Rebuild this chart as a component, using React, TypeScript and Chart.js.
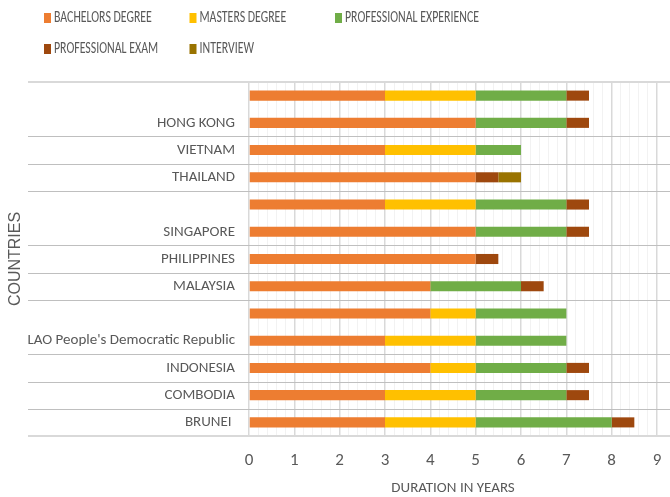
import React, { useEffect, useRef } from 'react';
import { Chart, registerables } from 'chart.js';

Chart.register(...registerables);

const countries = ['', 'HONG KONG', 'VIETNAM', 'THAILAND', '', 'SINGAPORE', 'PHILIPPINES', 'MALAYSIA', '', "LAO People's Democratic Republic", 'INDONESIA', 'COMBODIA', 'BRUNEI '];
const bachelors = [3, 5, 3, 5, 3, 5, 5, 4, 4, 3, 4, 3, 3];
const masters = [2, 0, 2, 0, 2, 0, 0, 0, 1, 2, 1, 2, 2];
const experience = [2, 2, 1, 0, 2, 2, 0, 2, 2, 2, 2, 2, 3];
const exam = [0.5, 0.5, 0, 0.5, 0.5, 0.5, 0.5, 0.5, 0, 0, 0.5, 0.5, 0.5];
const interview = [0, 0, 0, 0.5, 0, 0, 0, 0, 0, 0, 0, 0, 0];
const seriesNames = ['BACHELORS DEGREE', 'MASTERS DEGREE', 'PROFESSIONAL EXPERIENCE', 'PROFESSIONAL EXAM', 'INTERVIEW'];
// index of the last row of each country group (for separator lines)
const groupEnds = [1, 2, 3, 5, 6, 7, 9, 10, 11, 12];
const xMin = 0;
const xMax = 9;
const xStep = 0.2;

const CALIBRI = "Carlito, 'Liberation Sans', sans-serif";
const REGULAR = "'Liberation Sans', Arial, sans-serif";
const TEXT = '#595959';

const isMajor = (v: number) => Math.abs(v - Math.round(v)) < 1e-6;

const separators = {
  id: 'separators',
  beforeDatasetsDraw(chart: any, _a: any, o: any) {
    const y = chart.scales.y;
    const ctx = chart.ctx;
    const half = (y.getPixelForValue(1) - y.getPixelForValue(0)) / 2;
    const line = (py: number, color: string, w: number) => {
      ctx.beginPath();
      ctx.strokeStyle = color;
      ctx.lineWidth = w;
      const yy = Math.round(py) + (w % 2 ? 0.5 : 0);
      ctx.moveTo(o.left, yy);
      ctx.lineTo(chart.width, yy);
      ctx.stroke();
    };
    ctx.save();
    line(y.getPixelForValue(0) - half, o.edgeColor, 2);
    groupEnds.forEach((i) => {
      const last = i === countries.length - 1;
      line(y.getPixelForValue(i) + half, last ? o.edgeColor : o.color, last ? 2 : 1);
    });
    ctx.restore();
  },
};

const columnLegend = {
  id: 'columnLegend',
  afterDraw(chart: any, _a: any, o: any) {
    const ctx = chart.ctx;
    ctx.save();
    ctx.font = `${o.size}px ${o.family}`;
    ctx.textBaseline = 'middle';
    ctx.textAlign = 'left';
    chart.data.datasets.forEach((ds: any, i: number) => {
      const col = i % o.columns;
      const row = Math.floor(i / o.columns);
      const x = o.x + col * o.colWidth;
      const y = o.y + row * o.rowHeight;
      ctx.fillStyle = ds.backgroundColor;
      ctx.fillRect(x, y - o.boxH / 2, o.boxW, o.boxH);
      ctx.fillStyle = o.color;
      ctx.save();
      ctx.translate(x + o.boxW + o.gap, y);
      ctx.scale(o.squeeze, 1);
      ctx.fillText(ds.label, 0, 0);
      ctx.restore();
    });
    ctx.restore();
  },
};

export default function App() {
  const ref = useRef<HTMLCanvasElement>(null);
  useEffect(() => {
    const colors = ['#ED7D31', '#FFC000', '#70AD47', '#9E480E', '#997300'];
    const values = [bachelors, masters, experience, exam, interview];
    const chart = new Chart(ref.current!, {
      type: 'bar',
      data: {
        labels: countries,
        datasets: seriesNames.map((name, i) => ({
          label: name,
          data: values[i],
          backgroundColor: colors[i],
          borderWidth: 0,
          barPercentage: 0.37,
          categoryPercentage: 1,
        })),
      },
      options: {
        indexAxis: 'y',
        responsive: false,
        animation: false,
        events: [],
        layout: { padding: { top: 82, right: 13, left: 0, bottom: 0 } },
        scales: {
          x: {
            stacked: true,
            min: xMin,
            max: xMax,
            ticks: {
              stepSize: xStep,
              autoSkip: false,
              maxRotation: 0,
              color: TEXT,
              padding: 15,
              font: { family: CALIBRI, size: 17 },
              callback: (v: any) => (isMajor(Number(v)) ? String(Math.round(Number(v))) : ''),
            },
            grid: {
              color: (c: any) => (isMajor(c.tick.value) ? '#d9d9d9' : '#f2f2f2'),
              lineWidth: (c: any) => (isMajor(c.tick.value) ? 1.5 : 1),
              drawTicks: false,
            },
            border: { display: false },
            title: {
              display: true,
              text: 'DURATION IN YEARS',
              color: TEXT,
              font: { family: CALIBRI, size: 15, lineHeight: 1.2 },
              padding: { top: 0, bottom: 0 },
            },
            afterFit: (s: any) => {
              s.height = 61;
              s.paddingLeft = 0;
              s.paddingRight = 0;
            },
          },
          y: {
            stacked: true,
            ticks: { color: TEXT, padding: 14, font: { family: CALIBRI, size: 15 }, autoSkip: false },
            grid: { display: false, drawTicks: false },
            border: { display: false },
            title: {
              display: true,
              text: 'COUNTRIES',
              color: TEXT,
              font: { family: REGULAR, size: 16, lineHeight: 1.2 },
              padding: { top: 6, bottom: 0 },
            },
            afterFit: (s: any) => { s.width = 249; },
          },
        },
        plugins: {
          legend: { display: false },
          tooltip: { enabled: false },
          separators: { left: 28, color: '#bfbfbf', edgeColor: '#d9d9d9' },
          columnLegend: {
            x: 44, y: 18, columns: 3, colWidth: 145.5, rowHeight: 31,
            boxW: 7, boxH: 10, gap: 3, size: 16, squeeze: 0.74, family: CALIBRI, color: TEXT,
          },
        } as any,
      },
      plugins: [separators, columnLegend],
    } as any);
    return () => chart.destroy();
  }, []);
  return (
    <div style={{ position: 'absolute', left: 0, top: 0, width: 670, height: 497 }}>
      <canvas ref={ref} width={670} height={497} />
    </div>
  );
}
